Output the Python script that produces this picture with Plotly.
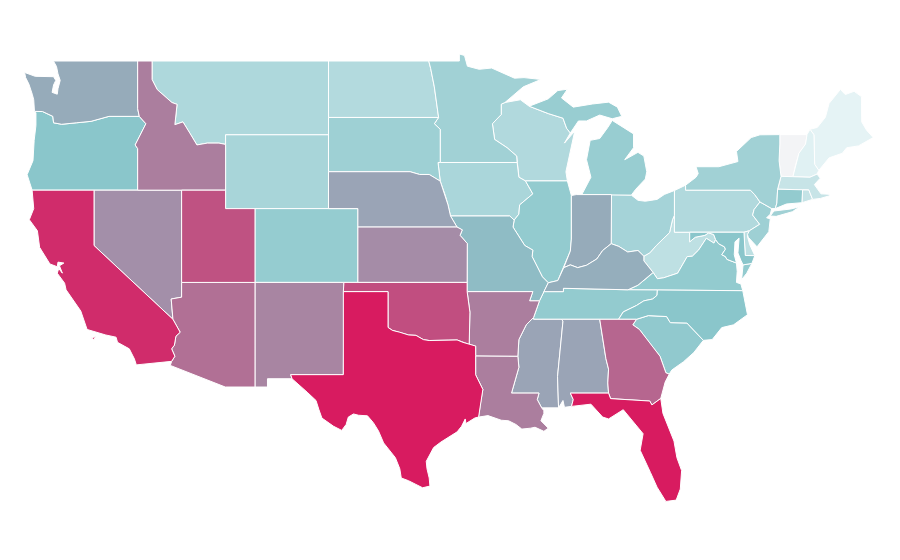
import plotly.graph_objects as go
from plotly.colors import sample_colorscale

# estimated shade per state, 0 = palest, 100 = deepest
states = ["VT", "ME", "NH", "RI", "MA", "WV", "PA", "ND", "WI", "MT", "DE", "NJ", "IA", "WY", "OH", "MN",
          "NY", "SD", "MI", "CT", "IL", "CO", "VA", "MD", "TN", "OR", "SC", "NC", "MO", "WA", "IN", "KY",
          "MS", "AL", "NE", "NV", "KS", "NM", "ID", "LA", "AR", "AZ", "GA", "UT", "OK", "CA", "TX", "FL"]
values = [0, 10, 12, 24, 23, 27, 33, 32, 33, 34, 27, 41, 36, 37, 38, 40,
          40, 41, 44, 46, 46, 45, 46, 50, 46, 50, 47, 50, 53, 58, 58, 57,
          60, 60, 60, 66, 67, 69, 71, 71, 71, 75, 78, 84, 85, 95, 100, 100]
colorscale = [[0, "#f3f4f6"], [0.1, "#e5f3f5"], [0.5, "#8ac6cb"], [1, "#d81b60"]]

# borders shared by two states, lon/lat
columbia = [(-116.92, 46.0), (-118.98, 46.0), (-119.3, 45.93), (-120.2, 45.73), (-121.2, 45.65), (-122.2, 45.57),
            (-122.75, 45.65), (-122.8, 46.0), (-123.2, 46.15), (-123.5, 46.26), (-124.05, 46.27)]
snake = [(-116.92, 46.0), (-116.47, 45.6), (-116.85, 45.0), (-117.2, 44.45), (-117.03, 44.25), (-117.03, 42.0)]
wa_id = [(-117.03, 49.0), (-117.03, 46.42), (-116.92, 46.0)]
ca_nv = [(-120.0, 42.0), (-120.0, 39.0), (-114.63, 35.0)]
colorado_r = [(-114.63, 35.0), (-114.14, 34.3), (-114.43, 34.08), (-114.53, 33.6), (-114.72, 33.4), (-114.5, 33.0),
              (-114.72, 32.72)]
id_mt = [(-116.05, 49.0), (-116.05, 48.0), (-115.7, 47.45), (-114.7, 46.75), (-114.35, 46.65), (-114.5, 45.55),
         (-113.95, 45.7), (-113.45, 45.05), (-113.0, 44.45), (-112.3, 44.55), (-111.5, 44.55), (-111.05, 44.48)]
red_r = [(-100.0, 34.56), (-99.7, 34.4), (-99.2, 34.3), (-98.6, 34.15), (-98.1, 34.13), (-97.6, 33.9), (-97.2, 33.85),
         (-96.6, 33.85), (-95.9, 33.87), (-95.3, 33.88), (-94.9, 33.75), (-94.48, 33.64)]
sabine = [(-94.04, 31.99), (-93.55, 31.2), (-93.7, 30.5), (-93.84, 29.7)]
mo_r_ne = [(-98.5, 43.0), (-97.85, 42.85), (-97.2, 42.85), (-96.45, 42.49)]
mo_r_ia = [(-96.45, 42.49), (-96.1, 41.7), (-95.92, 41.2), (-95.75, 40.6), (-95.31, 40.0)]
mo_r_ks = [(-95.31, 40.0), (-94.95, 39.85), (-95.1, 39.55), (-94.61, 39.11), (-94.62, 37.0), (-94.62, 36.5)]
ms_mn_wi = [(-92.3, 46.66), (-92.3, 46.1), (-92.9, 45.6), (-92.75, 44.75), (-91.9, 44.3), (-91.25, 43.85),
            (-91.22, 43.5)]
ms_ia_wi = [(-91.22, 43.5), (-91.1, 42.7), (-90.65, 42.5)]
ms_ia_il = [(-90.65, 42.5), (-90.15, 41.8), (-91.05, 41.2), (-91.1, 40.7), (-91.42, 40.38)]
ms_mo_il = [(-91.42, 40.38), (-91.5, 40.0), (-90.7, 39.0), (-90.15, 38.75), (-90.2, 38.4), (-89.5, 37.3),
            (-89.1, 36.98)]
ms_mo_ky = [(-89.1, 36.98), (-89.4, 36.5)]
ms_mo_tn = [(-89.4, 36.5), (-89.7, 36.0)]
ms_ar_tn = [(-89.7, 36.0), (-90.1, 35.1)]
ms_ar_ms = [(-90.1, 35.1), (-90.6, 34.7), (-91.1, 33.9), (-91.17, 33.0)]
ms_la_ms = [(-91.17, 33.0), (-91.1, 32.4), (-91.6, 31.0), (-89.73, 31.0), (-89.85, 30.65), (-89.55, 30.2)]
al_ms = [(-88.1, 34.9), (-88.47, 31.9), (-88.4, 30.2)]
al_ga = [(-85.6, 35.0), (-85.18, 32.87), (-85.0, 32.3), (-85.05, 31.55), (-85.0, 31.0)]
fl_al = [(-85.0, 31.0), (-87.6, 31.0), (-87.4, 30.65), (-87.52, 30.28)]
fl_ga = [(-85.0, 31.0), (-84.86, 30.7), (-82.2, 30.57), (-82.05, 30.36), (-81.45, 30.71)]
ga_sc = [(-83.1, 35.0), (-83.35, 34.7), (-82.9, 34.45), (-82.0, 33.5), (-81.5, 33.0), (-81.1, 32.1), (-80.87, 32.03)]
nc_sc = [(-83.1, 35.0), (-82.3, 35.2), (-81.05, 35.15), (-80.8, 34.82), (-79.67, 34.8), (-78.55, 33.86)]
nc_tn = [(-84.32, 35.0), (-84.0, 35.4), (-83.1, 35.75), (-82.6, 36.0), (-82.0, 36.1), (-81.7, 36.3), (-81.68, 36.59)]
ky_tn = [(-89.4, 36.5), (-88.07, 36.5), (-88.07, 36.68), (-83.68, 36.6)]
ky_va = [(-83.68, 36.6), (-83.0, 36.85), (-82.3, 37.3), (-81.97, 37.54)]
ky_wv = [(-81.97, 37.54), (-82.6, 38.17), (-82.6, 38.42)]
oh_r_ky = [(-82.6, 38.42), (-83.0, 38.73), (-83.7, 38.65), (-84.3, 38.95), (-84.82, 39.1)]
oh_r_in = [(-84.82, 39.1), (-85.4, 38.73), (-85.8, 38.27), (-86.5, 37.93), (-87.1, 37.8), (-87.6, 37.95),
           (-88.05, 37.8)]
oh_r_il = [(-88.05, 37.8), (-88.45, 37.1), (-89.1, 36.98)]
il_in = [(-87.53, 41.71), (-87.53, 39.35), (-87.6, 38.7), (-87.95, 38.0), (-88.05, 37.8)]
oh_wv = [(-82.6, 38.42), (-82.2, 38.6), (-81.75, 39.0), (-80.85, 39.7), (-80.65, 40.4), (-80.52, 40.64)]
va_wv = [(-77.72, 39.32), (-77.83, 39.13), (-78.35, 39.39), (-78.87, 38.76), (-79.3, 38.42), (-79.65, 38.4),
         (-80.3, 37.5), (-81.25, 37.25), (-81.68, 37.2), (-81.97, 37.54)]
md_wv = [(-79.48, 39.72), (-79.48, 39.2), (-79.1, 39.45), (-78.45, 39.55), (-78.2, 39.68), (-77.85, 39.6),
         (-77.72, 39.32)]
potomac = [(-76.3, 38.05), (-76.95, 38.25), (-77.05, 38.4), (-77.3, 38.5), (-77.05, 38.8), (-77.12, 38.93),
           (-77.52, 39.1), (-77.72, 39.32)]
de_md = [(-75.79, 39.72), (-75.7, 38.46), (-75.05, 38.45)]
nj_pa = [(-74.7, 41.36), (-75.1, 40.95), (-75.2, 40.65), (-74.72, 40.15), (-75.42, 39.8)]
ny_pa = [(-74.7, 41.36), (-75.05, 41.75), (-75.35, 42.0), (-79.76, 42.0), (-79.76, 42.27)]
ny_vt = [(-73.35, 45.01), (-73.35, 44.5), (-73.4, 43.6), (-73.27, 42.75)]
nh_vt = [(-71.5, 45.01), (-71.6, 44.5), (-72.05, 44.0), (-72.3, 43.3), (-72.46, 42.73)]
me_nh = [(-71.3, 45.3), (-71.03, 45.0), (-70.98, 43.4), (-70.7, 43.07)]
oh_mi = [(-84.8, 41.76), (-83.45, 41.73)]
up_wi = [(-90.4, 46.55), (-89.1, 46.15), (-88.1, 45.9), (-87.85, 45.35), (-87.6, 45.1)]


def rev(arc):
    return arc[::-1]


borders = {
    "WA": [[(-124.05, 46.27), (-124.07, 46.7), (-124.1, 46.9), (-124.2, 47.2), (-124.43, 47.75), (-124.65, 48.1),
            (-124.72, 48.38), (-124.0, 48.17), (-123.1, 48.15), (-122.75, 48.15), (-122.6, 47.95), (-122.75, 47.7),
            (-122.85, 47.3), (-122.5, 47.2), (-122.45, 47.5), (-122.4, 47.7), (-122.3, 47.95), (-122.45, 48.3),
            (-122.55, 48.7), (-122.76, 49.0)] + wa_id + columbia],
    "OR": [snake + [(-120.0, 42.0), (-124.21, 42.0), (-124.55, 42.84), (-124.15, 43.6), (-124.07, 44.7),
                    (-123.95, 45.5), (-123.95, 46.2)] + rev(columbia)],
    "CA": [[(-124.21, 42.0)] + ca_nv + colorado_r
           + [(-117.12, 32.53), (-117.25, 32.85), (-117.6, 33.4), (-118.4, 33.75), (-118.5, 34.03), (-119.2, 34.15),
              (-120.47, 34.45), (-120.65, 34.9), (-120.9, 35.45), (-121.9, 36.6), (-122.0, 36.96), (-122.5, 37.5),
              (-122.4, 37.75), (-122.15, 37.5), (-122.35, 37.9), (-122.05, 38.05), (-122.45, 38.1), (-122.5, 37.85),
              (-123.0, 38.0), (-123.7, 38.9), (-123.85, 39.8), (-124.4, 40.4), (-124.1, 41.0)],
           [(-120.2, 34.0), (-119.9, 34.05), (-120.0, 33.9)]],
    "NV": [[(-120.0, 42.0), (-114.04, 42.0), (-114.04, 36.2), (-114.75, 36.1), (-114.63, 35.0)] + rev(ca_nv)],
    "ID": [[(-117.03, 49.0)] + id_mt + [(-111.05, 42.0), (-117.03, 42.0)] + rev(snake) + rev(wa_id)],
    "MT": [id_mt + [(-111.05, 45.0), (-104.05, 45.0), (-104.05, 49.0)]],
    "WY": [[(-111.05, 45.0), (-104.05, 45.0), (-104.05, 41.0), (-111.05, 41.0)]],
    "UT": [[(-114.04, 42.0), (-111.05, 42.0), (-111.05, 41.0), (-109.05, 41.0), (-109.05, 37.0), (-114.04, 37.0)]],
    "CO": [[(-109.05, 41.0), (-102.05, 41.0), (-102.05, 37.0), (-109.05, 37.0)]],
    "AZ": [[(-114.04, 37.0), (-109.05, 37.0), (-109.05, 31.33), (-111.07, 31.33), (-114.81, 32.5)] + rev(colorado_r)
           + [(-114.75, 36.1), (-114.04, 36.2)]],
    "NM": [[(-109.05, 37.0), (-103.0, 37.0), (-103.04, 32.0), (-106.62, 32.0), (-106.53, 31.78), (-108.2, 31.78),
            (-108.2, 31.33), (-109.05, 31.33)]],
    "TX": [[(-103.04, 36.5), (-100.0, 36.5)] + red_r + [(-94.04, 33.55), (-94.04, 33.02)] + sabine
           + [(-94.1, 29.65), (-94.7, 29.35), (-94.75, 29.6), (-95.0, 29.2), (-95.3, 28.9), (-96.0, 28.55),
              (-96.4, 28.35), (-96.9, 28.05), (-97.15, 27.7), (-97.4, 27.3), (-97.35, 26.9), (-97.2, 26.4),
              (-97.15, 25.96), (-97.65, 25.87), (-98.1, 26.05), (-98.6, 26.25), (-99.1, 26.4), (-99.2, 26.9),
              (-99.5, 27.5), (-100.0, 28.0), (-100.3, 28.3), (-100.65, 28.95), (-101.0, 29.4), (-101.4, 29.77),
              (-102.0, 29.8), (-102.35, 29.87), (-102.7, 29.7), (-102.85, 29.3), (-103.15, 28.98), (-103.7, 29.2),
              (-104.2, 29.5), (-104.5, 29.65), (-104.7, 30.1), (-104.9, 30.6), (-105.5, 31.05), (-106.0, 31.4),
              (-106.53, 31.78), (-106.62, 32.0), (-103.04, 32.0)]],
    "OK": [[(-103.0, 37.0), (-94.62, 37.0), (-94.62, 36.5), (-94.43, 35.39)] + rev(red_r)
           + [(-100.0, 36.5), (-103.04, 36.5)]],
    "KS": [[(-102.05, 40.0)] + mo_r_ks[:5] + [(-102.05, 37.0)]],
    "NE": [[(-104.05, 43.0)] + mo_r_ne + mo_r_ia + [(-102.05, 40.0), (-102.05, 41.0), (-104.05, 41.0)]],
    "SD": [[(-104.05, 45.94), (-96.56, 45.94), (-96.85, 45.6), (-96.45, 45.3), (-96.45, 43.5), (-96.6, 43.5)]
           + rev(mo_r_ne) + [(-104.05, 43.0)]],
    "ND": [[(-104.05, 49.0), (-97.23, 49.0), (-97.1, 48.6), (-96.85, 47.6), (-96.56, 45.94), (-104.05, 45.94)]],
    "MN": [[(-97.23, 49.0), (-95.15, 49.0), (-95.15, 49.38), (-94.8, 49.3), (-94.6, 48.72), (-93.8, 48.55),
            (-92.95, 48.62), (-92.0, 48.3), (-91.4, 48.07), (-90.75, 48.1), (-89.6, 48.0), (-90.8, 47.6),
            (-92.05, 46.75)] + ms_mn_wi + [(-96.45, 43.5), (-96.45, 45.3), (-96.85, 45.6), (-96.56, 45.94),
                                           (-96.85, 47.6), (-97.1, 48.6)]],
    "IA": [[(-96.45, 43.5)] + ms_ia_wi + ms_ia_il + [(-91.72, 40.6)] + rev(mo_r_ia[:4]) + [(-96.6, 43.5)]],
    "MO": [[(-95.75, 40.6), (-91.72, 40.6)] + ms_mo_il + ms_mo_ky + ms_mo_tn + [(-90.37, 36.0), (-90.15, 36.5)]
           + rev(mo_r_ks) + [(-95.31, 40.0)]],
    "AR": [[(-94.62, 36.5), (-90.15, 36.5), (-90.37, 36.0)] + ms_ar_tn + ms_ar_ms
           + [(-94.04, 33.02), (-94.04, 33.55), (-94.48, 33.64), (-94.43, 35.39)]],
    "LA": [[(-94.04, 33.02)] + ms_la_ms + [(-89.4, 30.05), (-89.4, 29.9), (-89.6, 29.5), (-89.1, 29.1), (-89.4, 28.93),
                                           (-90.0, 29.15), (-90.3, 29.1), (-90.9, 29.05), (-91.3, 29.3), (-91.8, 29.5),
                                           (-92.3, 29.53), (-93.2, 29.78)] + rev(sabine)],
    "MS": [[(-90.1, 35.0), (-88.2, 35.0)] + al_ms + rev(ms_la_ms) + rev(ms_ar_ms)],
    "AL": [[(-88.2, 35.0)] + al_ga + fl_al + [(-88.0, 30.23), (-88.1, 30.6), (-88.4, 30.2)] + rev(al_ms)],
    "GA": [al_ga + fl_ga[1:] + [(-81.15, 31.6), (-80.87, 32.03)] + rev(ga_sc)],
    "FL": [rev(fl_al) + fl_ga[1:] + [(-81.3, 29.9), (-80.9, 29.05), (-80.55, 28.4), (-80.35, 27.5), (-80.03, 26.8),
                                     (-80.12, 25.8), (-80.4, 25.2), (-81.1, 25.13), (-81.7, 25.9), (-82.15, 26.7),
                                     (-82.7, 27.6), (-82.85, 27.9), (-82.65, 28.8), (-83.4, 29.5), (-84.0, 30.1),
                                     (-85.0, 29.6), (-85.4, 29.7), (-86.2, 30.4)]],
    "SC": [nc_sc + [(-79.2, 33.2), (-79.9, 32.7), (-80.7, 32.25)] + rev(ga_sc)],
    "NC": [[(-84.32, 35.0)] + nc_sc + [(-77.95, 33.9), (-77.3, 34.55), (-76.5, 34.7), (-75.55, 35.25), (-75.75, 36.2),
                                       (-75.87, 36.55)] + rev(nc_tn)],
    "TN": [[(-90.1, 35.1), (-90.1, 35.0), (-88.2, 35.0), (-85.6, 35.0)] + nc_tn + rev(ky_tn) + ms_mo_tn + ms_ar_tn],
    "KY": [ky_tn + ky_va + ky_wv + oh_r_ky + oh_r_in + oh_r_il + ms_mo_ky],
    "IL": [[(-90.65, 42.5), (-87.8, 42.5)] + il_in + oh_r_il + rev(ms_mo_il) + rev(ms_ia_il)],
    "IN": [[(-87.53, 41.71), (-87.2, 41.76), (-84.8, 41.76)] + oh_r_in + rev(il_in)],
    "OH": [oh_mi + [(-83.0, 41.45), (-82.5, 41.4), (-81.7, 41.5), (-81.2, 41.77), (-80.52, 41.98)] + rev(oh_wv)
           + oh_r_ky],
    "WV": [oh_wv + [(-80.52, 39.72)] + md_wv + va_wv + ky_wv],
    "VA": [[(-83.68, 36.6), (-81.68, 36.59), (-75.87, 36.55), (-76.0, 36.92), (-76.3, 37.0), (-76.25, 37.6)] + potomac
           + va_wv + rev(ky_va)[1:],
           [(-75.95, 37.15), (-75.85, 37.95), (-75.25, 38.03), (-75.6, 37.5)]],
    "MD": [[(-79.48, 39.72)] + de_md + [(-75.25, 38.03), (-75.85, 37.95), (-76.0, 38.2), (-76.2, 38.6), (-76.12, 39.4),
                                        (-76.4, 39.2), (-76.45, 38.5)] + potomac + rev(md_wv)],
    "DE": [[(-75.79, 39.72), (-75.42, 39.8), (-75.55, 39.5), (-75.4, 39.05), (-75.05, 38.45), (-75.7, 38.46)]],
    "PA": [[(-80.52, 41.98)] + rev(ny_pa) + nj_pa[1:] + [(-75.79, 39.72), (-80.52, 39.72)]],
    "NJ": [[(-74.7, 41.36), (-73.9, 41.0), (-74.0, 40.7), (-74.25, 40.5), (-74.0, 40.45), (-74.1, 39.75),
            (-74.9, 38.93), (-75.5, 39.45), (-75.55, 39.6)] + rev(nj_pa)],
    "NY": [[(-79.76, 42.27), (-79.05, 42.7), (-78.9, 42.9), (-79.05, 43.27), (-77.5, 43.27), (-76.5, 43.5),
            (-76.2, 43.55), (-76.3, 44.1), (-75.3, 44.85), (-74.7, 45.0)] + ny_vt
           + [(-73.5, 42.05), (-73.55, 41.3), (-73.66, 41.0), (-73.9, 41.0)] + ny_pa,
           [(-74.0, 40.6), (-73.75, 40.87), (-72.6, 40.98), (-72.0, 41.1), (-72.5, 40.83), (-73.6, 40.58)]],
    "VT": [[(-73.35, 45.01)] + nh_vt + rev(ny_vt)],
    "NH": [nh_vt + [(-71.3, 42.7), (-70.82, 42.87)] + rev(me_nh)],
    "ME": [me_nh + [(-70.0, 43.75), (-69.1, 44.0), (-68.8, 44.3), (-68.0, 44.4), (-67.0, 44.85), (-67.45, 45.25),
                    (-67.78, 45.7), (-67.8, 47.07), (-68.3, 47.36), (-68.9, 47.18), (-69.23, 47.46), (-70.0, 46.7),
                    (-70.25, 45.95), (-70.8, 45.4)]],
    "MA": [[(-73.5, 42.05), (-73.27, 42.75), (-72.46, 42.73), (-71.3, 42.7), (-70.82, 42.87), (-70.6, 42.65),
            (-71.0, 42.3), (-70.65, 41.95), (-70.55, 41.8), (-70.0, 41.78), (-70.2, 42.07), (-69.95, 41.7),
            (-70.6, 41.55), (-71.12, 41.5), (-71.38, 42.02), (-71.8, 42.02)]],
    "RI": [[(-71.8, 42.02), (-71.38, 42.02), (-71.12, 41.5), (-71.85, 41.32)]],
    "CT": [[(-73.5, 42.05), (-71.8, 42.02), (-71.85, 41.32), (-72.9, 41.25), (-73.66, 41.0), (-73.55, 41.3)]],
    "MI": [[(-86.82, 41.76)] + oh_mi + [(-83.15, 42.05), (-82.5, 42.6), (-82.4, 43.0), (-82.6, 43.85), (-83.0, 44.05),
                                        (-83.9, 43.65), (-83.3, 44.3), (-83.3, 45.05), (-84.75, 45.78), (-85.05, 45.4),
                                        (-85.6, 44.8), (-86.25, 44.7), (-86.5, 43.65), (-86.2, 42.7)],
           up_wi + [(-87.05, 45.75), (-86.5, 45.75), (-85.6, 46.07), (-84.75, 45.87), (-84.1, 46.0), (-84.4, 46.5),
                    (-85.0, 46.77), (-86.1, 46.67), (-87.4, 46.5), (-88.2, 47.0), (-87.8, 47.47), (-88.45, 47.4),
                    (-89.1, 46.95)]],
    "WI": [[(-92.05, 46.75), (-91.0, 46.9)] + up_wi + [(-88.0, 44.55), (-87.3, 45.2), (-87.55, 44.3), (-87.9, 43.0),
                                                       (-87.8, 42.5)] + rev(ms_ia_wi) + rev(ms_mn_wi)],
}

shade = sample_colorscale(colorscale, [v / 100 for v in values])

fig = go.Figure()
for state, color in zip(states, shade):
    xs, ys = [], []
    for ring in borders[state]:
        xs += [p[0] for p in ring] + [ring[0][0], None]
        ys += [p[1] for p in ring] + [ring[0][1], None]
    fig.add_trace(go.Scatter(x=xs, y=ys, name=state, mode="lines", fill="toself", fillcolor=color,
                             line=dict(color="white", width=1), hoveron="fills", hoverinfo="name"))

fig.update_xaxes(range=[-125.85, -65.72], visible=False)
fig.update_yaxes(range=[22.388, 51.873], visible=False)
fig.update_layout(width=884, height=544, margin=dict(l=0, r=0, t=0, b=0), showlegend=False,
                  paper_bgcolor="white", plot_bgcolor="white")
fig.write_html("out.html")
